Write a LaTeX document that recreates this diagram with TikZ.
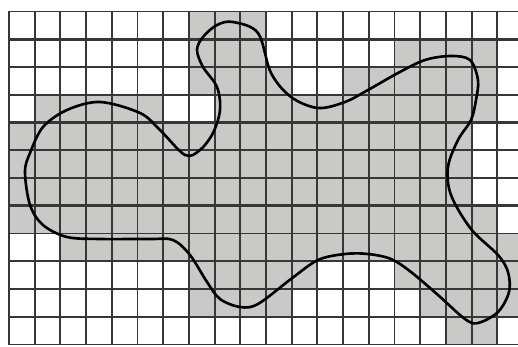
\documentclass[tikz,border=0pt]{standalone}
\usepackage{xcolor}
\usepackage{tikz}
\definecolor{cellgray}{RGB}{201,202,200}
\definecolor{gridgray}{RGB}{55,55,55}

\begin{document}
\begin{tikzpicture}[x=0.02cm, y=-0.02cm,
    cellfill/.style={fill=cellgray},
    gridline/.style={draw=gridgray, line width=1.1pt},
    boldline/.style={draw=gridgray, line width=1.7pt},
    blob/.style={draw=black, line width=1.5pt}]
    \useasboundingbox (0,0) rectangle (518,347);
    \fill[white] (0,0) rectangle (518,347);

    % shaded cells, row by row
    \foreach \r/\cols in {0/{7,8,9}, 1/{7,8,9,15,16,17,18}, 2/{7,8,9,10,13,14,15,16,17,18},
        3/{1,2,3,4,5,8,9,...,18}, 4/{0,...,17}, 5/{0,...,17}, 6/{0,...,17}, 7/{0,...,18},
        8/{2,...,19}, 9/{7,8,9,10,11,15,16,17,18,19}, 10/{7,8,9,10,16,17,18,19}, 11/{17,18}} {
        \foreach \c in \cols {
            \fill[cellfill] ({9+25.7*\c},{11.5+27.75*\r}) rectangle ++(25.7,27.75);
        }
    }

    % grid
    \foreach \k in {0,...,19} \draw[gridline] ({9+25.7*\k},11.5) -- ({9+25.7*\k},345);
    \foreach \k in {0,2,3,5,6,8,9,11,12} \draw[gridline] (9,{11.5+27.75*\k}) -- (518,{11.5+27.75*\k});
    \foreach \k in {1,4,7,10} \draw[boldline] (9,{11.5+27.75*\k}) -- (518,{11.5+27.75*\k});

    % outline
    \draw[blob] plot[smooth cycle, tension=0.55] coordinates {
        (25,172) (30,153) (43,127) (67,110) (100,102) (140,113) (160,130) (185,155)
        (200,150) (213,133) (220,110) (217,87) (203,67) (197,50) (203,37) (217,25)
        (233,22) (258,33) (271,73) (291,97) (318,108) (345,102) (368,90) (398,73)
        (425,60) (451,56) (470,60) (478,80) (476,100) (471,120) (458,140) (448,167)
        (451,195) (471,229) (498,255) (508,272) (509,292) (498,312) (478,323) (465,319)
        (438,295) (411,272) (391,259) (368,254) (345,254) (318,260) (291,279) (258,304)
        (240,307) (220,299) (207,282) (190,255) (173,240) (150,239) (100,239) (67,237)
        (43,225) (30,205)};
\end{tikzpicture}
\end{document}
